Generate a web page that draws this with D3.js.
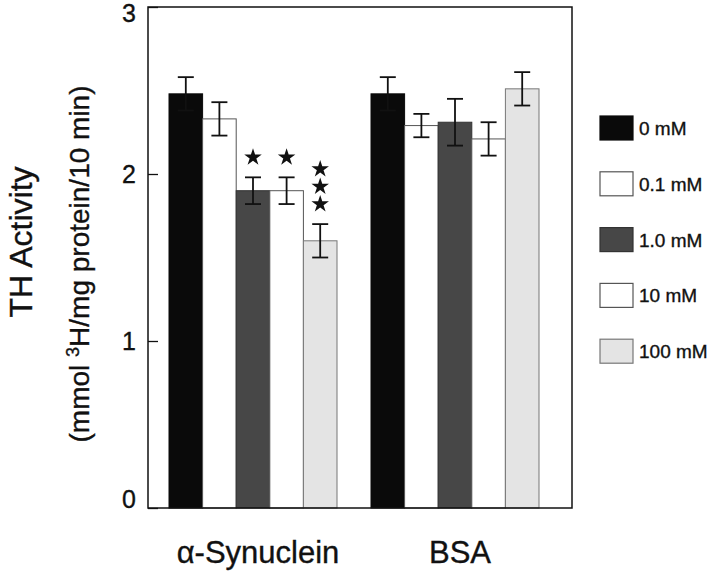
<!DOCTYPE html>
<html>
<head>
<meta charset="utf-8">
<script src="https://cdn.jsdelivr.net/npm/d3@7"></script>
<style>
  html, body { margin: 0; padding: 0; background: #fff; }
  svg { display: block; }
  text { font-family: "Liberation Sans", Arial, Helvetica, sans-serif; fill: #111; stroke: #111; stroke-width: 0.35px; }
</style>
</head>
<body>
<svg id="chart" width="720" height="572"></svg>
<script>
// ---- data ----
const groups = ["α-Synuclein", "BSA"];
const concentrations = ["0 mM", "0.1 mM", "1.0 mM", "10 mM", "100 mM"];
const synucleinValues = [2.48, 2.33, 1.90, 1.90, 1.60];
const synucleinErrors = [0.10, 0.10, 0.08, 0.08, 0.10];
const synucleinStars = [0, 0, 1, 1, 3];
const bsaValues = [2.48, 2.29, 2.31, 2.21, 2.51];
const bsaErrors = [0.10, 0.07, 0.14, 0.10, 0.10];
const bsaStars = [0, 0, 0, 0, 0];
const yTicks = [0, 1, 2, 3];

// ---- styles ----
const fills = ["#0a0a0a", "#ffffff", "#474747", "#ffffff", "#e4e4e4"];
const strokes = ["#0a0a0a", "#555555", "#333333", "#555555", "#777777"];

// ---- layout ----
const margin = { left: 148, top: 7 };
const W = 424, H = 501;

const svg = d3.select("#chart");
const g = svg.append("g").attr("transform", `translate(${margin.left},${margin.top})`);

const y = d3.scaleLinear().domain([0, 3]).range([H, 0]);
const x0 = d3.scaleBand().domain(groups).range([21, 391]).paddingInner(34 / 202).paddingOuter(0);
const x1 = d3.scaleBand().domain(concentrations).range([0, x0.bandwidth()]).padding(0);

const table = [
  { group: groups[0], values: synucleinValues, errors: synucleinErrors, stars: synucleinStars },
  { group: groups[1], values: bsaValues, errors: bsaErrors, stars: bsaStars }
];
const rows = [];
table.forEach(t => {
  concentrations.forEach((c, i) => {
    rows.push({ group: t.group, conc: c, idx: i, v: t.values[i], e: t.errors[i], s: t.stars[i] });
  });
});

// bars
g.selectAll("rect.bar").data(rows).enter().append("rect")
  .attr("class", "bar")
  .attr("x", d => x0(d.group) + x1(d.conc))
  .attr("y", d => y(d.v))
  .attr("width", x1.bandwidth())
  .attr("height", d => y(0) - y(d.v))
  .attr("fill", d => fills[d.idx])
  .attr("stroke", d => strokes[d.idx])
  .attr("stroke-width", 1);

// error bars
const cap = 8;
const eb = g.selectAll("g.err").data(rows).enter().append("g").attr("class", "err")
  .attr("stroke", "#111").attr("stroke-width", 1.8);
const cx = d => x0(d.group) + x1(d.conc) + x1.bandwidth() / 2;
eb.append("line").attr("x1", cx).attr("x2", cx)
  .attr("y1", d => y(d.v - d.e)).attr("y2", d => y(d.v + d.e));
eb.append("line").attr("x1", d => cx(d) - cap).attr("x2", d => cx(d) + cap)
  .attr("y1", d => y(d.v + d.e)).attr("y2", d => y(d.v + d.e));
eb.append("line").attr("x1", d => cx(d) - cap).attr("x2", d => cx(d) + cap)
  .attr("y1", d => y(d.v - d.e)).attr("y2", d => y(d.v - d.e));

// significance stars
const starSym = d3.symbol().type(d3.symbolStar).size(95);
rows.forEach(d => {
  for (let k = 0; k < d.s; k++) {
    g.append("path").attr("d", starSym())
      .attr("fill", "#111")
      .attr("transform", `translate(${cx(d)},${y(d.v + d.e) - 20 - k * 17.5})`);
  }
});

// frame
g.append("rect").attr("x", 0).attr("y", 0).attr("width", W).attr("height", H)
  .attr("fill", "none").attr("stroke", "#111").attr("stroke-width", 1.5);

// y axis
const yAxis = d3.axisLeft(y).tickValues(yTicks).tickFormat(d3.format("d"))
  .tickSizeInner(-10).tickSizeOuter(0).tickPadding(12);
const ya = g.append("g").call(yAxis);
ya.select(".domain").remove();
ya.selectAll(".tick line").attr("stroke", "#111").attr("stroke-width", 1.3);
ya.selectAll(".tick text")
  .attr("font-size", 25).attr("font-family", "Liberation Sans, Arial, sans-serif").attr("fill", "#111")
  .attr("dy", d => d === 3 ? "0.58em" : d === 0 ? "-0.02em" : "0.34em");

// x labels
g.selectAll("text.xl").data(groups).enter().append("text")
  .attr("class", "xl")
  .attr("x", d => x0(d) + x0.bandwidth() / 2 + 5)
  .attr("y", 556)
  .attr("text-anchor", "middle")
  .attr("font-size", 31)
  .text(d => d);

// y titles
svg.append("text")
  .attr("transform", "translate(32,242) rotate(-90)")
  .attr("text-anchor", "middle")
  .attr("font-size", 32)
  .text("TH Activity");
const sub = svg.append("text")
  .attr("transform", "translate(89,264) rotate(-90)")
  .attr("text-anchor", "middle")
  .attr("font-size", 28);
sub.append("tspan").text("(mmol ");
sub.append("tspan").attr("font-size", 18).attr("dy", -10).text("3");
sub.append("tspan").attr("dy", 10).text("H/mg protein/10 min)");

// legend
const legend = svg.append("g").attr("transform", "translate(600,116)");
const li = legend.selectAll("g").data(concentrations).enter().append("g")
  .attr("transform", (d, i) => `translate(0,${i * 55.8})`);
li.append("rect").attr("width", 33).attr("height", 24)
  .attr("fill", (d, i) => fills[i])
  .attr("stroke", (d, i) => strokes[i]).attr("stroke-width", 1.2);
li.append("text").attr("x", 39).attr("y", 19).attr("font-size", 19).text(d => d);
</script>
</body>
</html>
